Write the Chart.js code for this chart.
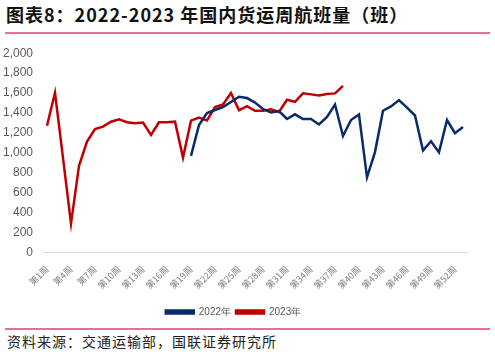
<!DOCTYPE html>
<html>
<head>
<meta charset="utf-8">
<script src="https://cdn.jsdelivr.net/npm/chart.js@4.4.1/dist/chart.umd.min.js"></script>
<style>
    html, body { margin: 0; padding: 0; background: #fff; }
    body { width: 495px; height: 354px; position: relative; overflow: hidden; font-family: "Noto Sans CJK SC", "Noto Sans", sans-serif; }
    .title { position: absolute; left: 6px; top: 1px; font-size: 18px; font-weight: bold; letter-spacing: 1px; color: #111; white-space: nowrap; }
    .rule { position: absolute; left: 5px; width: 485px; height: 2px; background: #e3708c; }
    .source { position: absolute; left: 7px; top: 331px; font-size: 14px; color: #222; letter-spacing: 1px; white-space: nowrap; }
    .box { position: absolute; left: 0; top: 36px; width: 495px; height: 291px; }
</style>
</head>
<body>
<div class="title">图表8：2022-2023 年国内货运周航班量（班）</div>
<div class="rule" style="top:32px"></div>
<div class="box"><canvas id="flights"></canvas></div>
<div class="rule" style="top:328px"></div>
<div class="source">资料来源：交通运输部，国联证券研究所</div>
<script>
const weeks = [
    "第1周", "第2周", "第3周", "第4周", "第5周", "第6周", "第7周", "第8周", "第9周", "第10周",
    "第11周", "第12周", "第13周", "第14周", "第15周", "第16周", "第17周", "第18周", "第19周", "第20周",
    "第21周", "第22周", "第23周", "第24周", "第25周", "第26周", "第27周", "第28周", "第29周", "第30周",
    "第31周", "第32周", "第33周", "第34周", "第35周", "第36周", "第37周", "第38周", "第39周", "第40周",
    "第41周", "第42周", "第43周", "第44周", "第45周", "第46周", "第47周", "第48周", "第49周", "第50周",
    "第51周", "第52周", "第53周"
];

// 2022 starts at week 19
const flights2022 = [
    null, null, null, null, null, null, null, null, null, null,
    null, null, null, null, null, null, null, null,
    970, 1280, 1400, 1430, 1460, 1510, 1563, 1550, 1505, 1440,
    1405, 1420, 1340, 1387, 1340, 1340, 1285, 1360, 1485, 1170,
    1330, 1385, 755, 1008, 1423, 1466, 1530, 1455, 1375, 1023,
    1117, 1005, 1330, 1197, 1260
];

const flights2023 = [
    1273, 1603, 950, 290, 870, 1113, 1240, 1263, 1313, 1337,
    1307, 1297, 1305, 1180, 1307, 1307, 1313, 953, 1323, 1355,
    1325, 1460, 1485, 1600, 1427, 1468, 1423, 1423, 1437, 1410,
    1533, 1513, 1597, 1587, 1577, 1590, 1597, 1673
];

const seriesNames = ["2022年", "2023年"];
const seriesColors = ["#0b2a6b", "#c00000"];

new Chart(document.getElementById("flights"), {
    type: "line",
    data: {
        labels: weeks,
        datasets: [
            {
                label: seriesNames[0],
                data: flights2022,
                borderColor: seriesColors[0],
                backgroundColor: seriesColors[0],
                borderWidth: 2.5,
                pointRadius: 0,
                tension: 0
            },
            {
                label: seriesNames[1],
                data: flights2023,
                borderColor: seriesColors[1],
                backgroundColor: seriesColors[1],
                borderWidth: 2.5,
                pointRadius: 0,
                tension: 0
            }
        ]
    },
    options: {
        responsive: true,
        maintainAspectRatio: false,
        animation: false,
        layout: { padding: { left: 0, right: 28, top: 17, bottom: 0 } },
        plugins: {
            tooltip: { enabled: false },
            legend: {
                position: "bottom",
                labels: {
                    boxWidth: 28,
                    boxHeight: 3,
                    padding: 5,
                    color: "#595959",
                    font: { family: "Liberation Sans, Arial, sans-serif", size: 10 }
                }
            }
        },
        scales: {
            x: {
                offset: true,
                grid: { display: false, drawTicks: false },
                border: { display: true, color: "#d9d9d9", width: 1 },
                ticks: {
                    autoSkip: false,
                    minRotation: 45,
                    maxRotation: 45,
                    padding: 11,
                    color: "#7f7f7f",
                    font: { family: "Noto Sans CJK SC", size: 9 },
                    callback: function (value, index) {
                        return index % 3 === 0 ? weeks[index] : "";
                    }
                }
            },
            y: {
                min: 0,
                max: 2000,
                grid: { display: false, drawTicks: false },
                border: { display: false },
                afterFit: function (scale) { scale.width = 43; },
                ticks: {
                    stepSize: 200,
                    padding: 10,
                    color: "#595959",
                    font: { family: "Liberation Sans, Arial, sans-serif", size: 12 },
                    callback: function (value) { return value.toLocaleString("en-US"); }
                }
            }
        }
    }
});
</script>
</body>
</html>
